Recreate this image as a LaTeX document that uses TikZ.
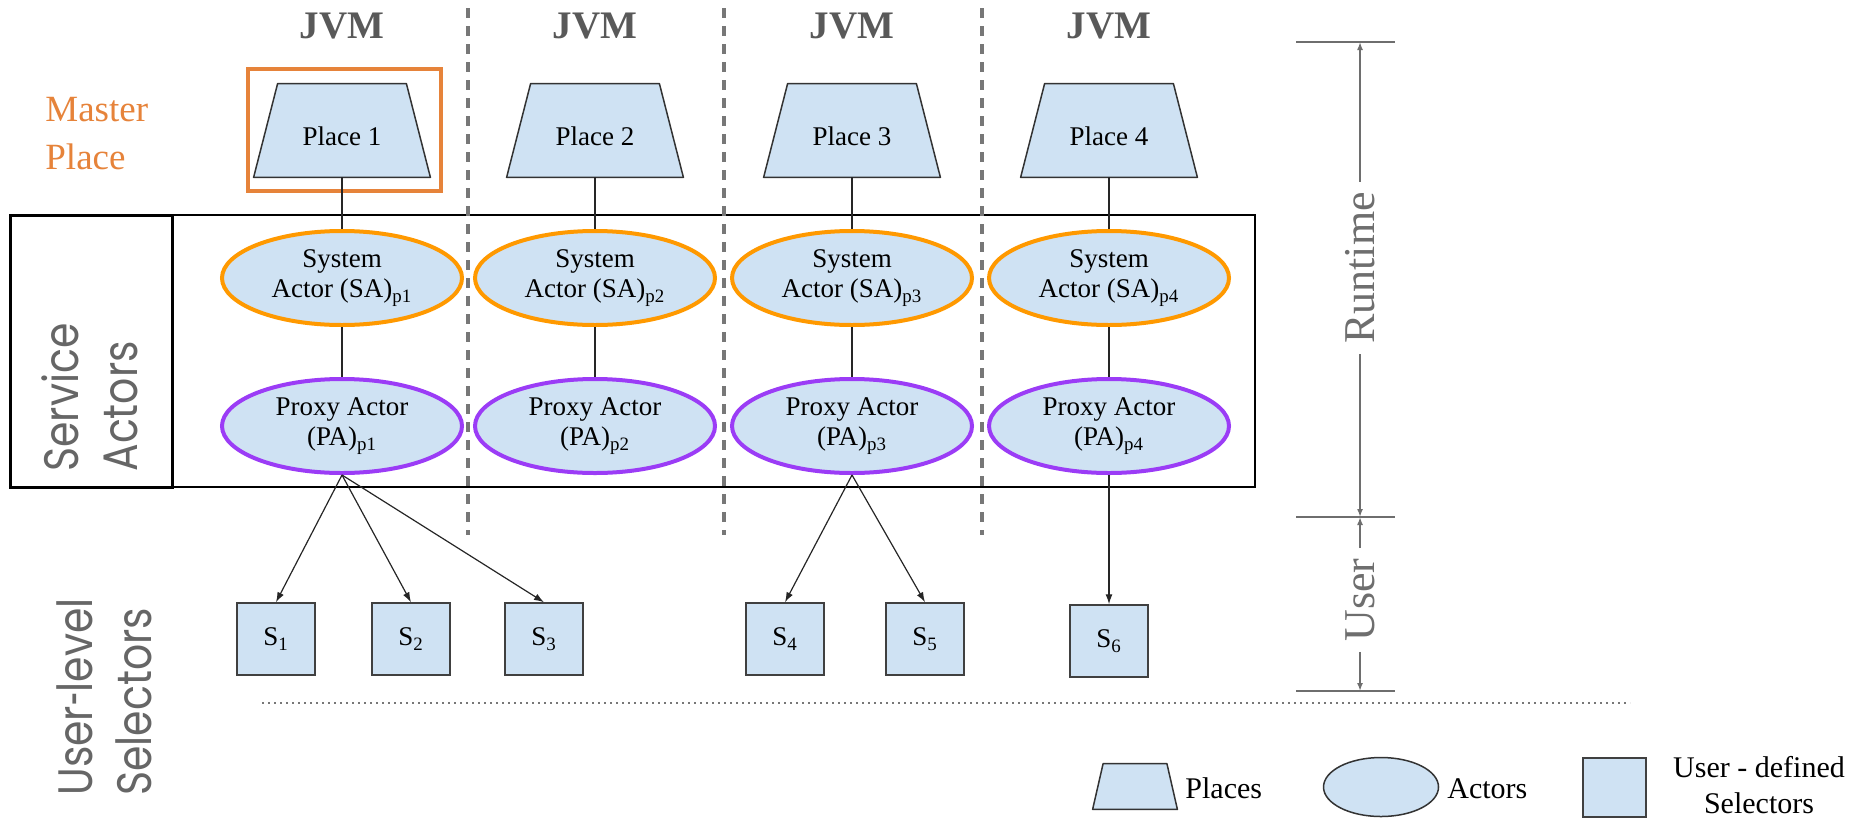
\documentclass[tikz,border=0pt]{standalone}
\usepackage{fontspec}
\setmainfont{Liberation Serif}
\newfontfamily\geofont{Poppins}
\usetikzlibrary{shapes.geometric,arrows.meta,backgrounds}
\definecolor{fillblue}{HTML}{CFE2F3}
\definecolor{saorange}{HTML}{FF9900}
\definecolor{papurple}{HTML}{9B3CF6}
\definecolor{masterorange}{HTML}{E6833A}
\definecolor{jvmgray}{HTML}{595959}
\definecolor{dashgray}{HTML}{777777}
\definecolor{dimgray}{HTML}{6E6E6E}
\definecolor{sidegray}{HTML}{666666}
\newcommand{\tallword}[1]{\scalebox{1}[1.18]{#1}}
\begin{document}
\begin{tikzpicture}[x=0.5pt,y=-0.5pt,
  inner/.style={font=\fontsize{13.5}{15}\selectfont},
  placebox/.style={rectangle, minimum width=88pt, minimum height=46.5pt, inner sep=0pt,
    inner, text height=15pt, text depth=0pt},
  placeshape/.style={draw=black!80, line width=0.75pt, fill=fillblue, line join=round},
  sa/.style={ellipse, minimum width=120pt, minimum height=47pt, inner sep=0pt,
    draw=saorange, line width=2pt, fill=fillblue, align=center, inner},
  pa/.style={sa, draw=papurple},
  sel/.style={rectangle, minimum width=39pt, minimum height=36pt, inner sep=0pt,
    draw=black!75, line width=0.75pt, fill=fillblue, inner},
  conn/.style={draw=black!85, line width=0.6pt},
  arr/.style={conn, -{Latex[length=5pt,width=3.5pt]}},
  jvm/.style={font=\fontsize{19.5}{22}\selectfont\bfseries, text=jvmgray, anchor=base, inner sep=0pt},
  sep/.style={draw=dashgray, line width=2pt, dash pattern=on 5pt off 4pt},
  side/.style={rotate=90, anchor=west, align=left, text=sidegray,
    font=\geofont\fontsize{20.5}{29.5}\selectfont, inner sep=0pt},
  dimtick/.style={draw=dimgray, line width=1pt},
  dimarr/.style={draw=dimgray, line width=0.75pt, -{Latex[length=4pt,width=3pt]}},
  dimlabel/.style={rotate=90, text=dimgray, font=\fontsize{22}{24}\selectfont, inner sep=5pt},
  legtext/.style={font=\fontsize{15}{18}\selectfont, inner sep=0pt},
  dotline/.style={draw=dashgray, line width=0.8pt, dash pattern=on 1pt off 2pt}
]
\useasboundingbox (0,0) rectangle (1866,819);

% frame
\draw[line width=1pt] (10,215) rectangle (1255,487);
\draw[line width=1.5pt] (10,215) rectangle (172,487);

% JVM headings
\node[jvm] (j1) at (342,39) {JVM};
\node[jvm] (j2) at (595,39) {JVM};
\node[jvm] (j3) at (852,39) {JVM};
\node[jvm] (j4) at (1109,39) {JVM};

% master place
\draw[draw=masterorange, line width=2pt] (248,69) rectangle (441,191);
\node[text=masterorange, align=left, anchor=west, inner sep=0pt,
  font=\fontsize{18.5}{24}\selectfont] (mp) at (45,134) {Master\\Place};

% places
\node[placebox] (P1) at (342,130.5) {Place 1};
\node[placebox] (P2) at (595,130.5) {Place 2};
\node[placebox] (P3) at (852,130.5) {Place 3};
\node[placebox] (P4) at (1109,130.5) {Place 4};
\node[placebox, minimum width=42pt, minimum height=22.5pt] (lp) at (1135,786.5) {};
\begin{scope}[on background layer]
\foreach \p in {P1,P2,P3,P4}
  \draw[placeshape] (\p.south west) -- (\p.south east)
    -- ([xshift=-12pt]\p.north east) -- ([xshift=12pt]\p.north west) -- cycle;
\draw[placeshape] (lp.south west) -- (lp.south east)
    -- ([xshift=-5.25pt]lp.north east) -- ([xshift=5.25pt]lp.north west) -- cycle;
\end{scope}

% system actors
\node[sa] (SA1) at (342,278) {System\\Actor (SA)\textsubscript{p1}};
\node[sa] (SA2) at (595,278) {System\\Actor (SA)\textsubscript{p2}};
\node[sa] (SA3) at (852,278) {System\\Actor (SA)\textsubscript{p3}};
\node[sa] (SA4) at (1109,278) {System\\Actor (SA)\textsubscript{p4}};

% proxy actors
\node[pa] (PA1) at (342,426) {Proxy Actor\\(PA)\textsubscript{p1}};
\node[pa] (PA2) at (595,426) {Proxy Actor\\(PA)\textsubscript{p2}};
\node[pa] (PA3) at (852,426) {Proxy Actor\\(PA)\textsubscript{p3}};
\node[pa] (PA4) at (1109,426) {Proxy Actor\\(PA)\textsubscript{p4}};

% selectors
\node[sel] (S1) at (276,639) {S\textsubscript{1}};
\node[sel] (S2) at (411,639) {S\textsubscript{2}};
\node[sel] (S3) at (544,639) {S\textsubscript{3}};
\node[sel] (S4) at (785,639) {S\textsubscript{4}};
\node[sel] (S5) at (925,639) {S\textsubscript{5}};
\node[sel] (S6) at (1109,641) {S\textsubscript{6}};

% vertical connectors
\foreach \i in {1,2,3,4} {
  \draw[conn] (P\i) -- (SA\i);
  \draw[conn] (SA\i) -- (PA\i);
}
\draw[arr] (PA1.south) -- (S1.north);
\draw[arr] (PA1.south) -- (S2.north);
\draw[arr] (PA1.south) -- (S3.north);
\draw[arr] (PA3.south) -- (S4.north);
\draw[arr] (PA3.south) -- (S5.north);
\draw[arr] (PA4.south) -- (S6.north);

% JVM separators
\draw[sep] (468,8) -- (468,535);
\draw[sep] (724,8) -- (724,535);
\draw[sep] (982,8) -- (982,535);

% side labels
\node[side] (svc) at (90,472) {\tallword{Service}\\\tallword{Actors}};
\node[side] (usl) at (104,796) {\tallword{User\scalebox{0.6}[1]{-}level}\\\tallword{Selectors}};

% dotted divider
\draw[dotline] (262,703) -- (1630,703);

% dimension lines
\draw[dimtick] (1296,42) -- (1395,42);
\draw[dimtick] (1296,517) -- (1395,517);
\draw[dimtick] (1296,691) -- (1395,691);
\coordinate (rtop) at (1360,42);
\coordinate (rmid) at (1360,517);
\coordinate (rbot) at (1360,691);
\node[dimlabel] (rt) at (1360,268) {Runtime};
\node[dimlabel] (us) at (1360,600) {User};
\draw[dimarr] (rt) -- (rtop);
\draw[dimarr] (rt) -- (rmid);
\draw[dimarr] (us) -- (rmid);
\draw[dimarr] (us) -- (rbot);

% legend
\node[legtext, anchor=base west] (lpt) at (1185,798) {Places};
\node[ellipse, minimum width=57.5pt, minimum height=29.5pt, inner sep=0pt,
  draw=black!80, line width=0.75pt, fill=fillblue] (la) at (1381,787) {};
\node[legtext, anchor=base west] (lat) at (1447,798) {Actors};
\node[sel, minimum width=31.5pt, minimum height=29.5pt] (ls) at (1614.5,787.5) {};
\node[legtext, align=center] (lst) at (1759,785) {User - defined\\Selectors};
\end{tikzpicture}
\end{document}
